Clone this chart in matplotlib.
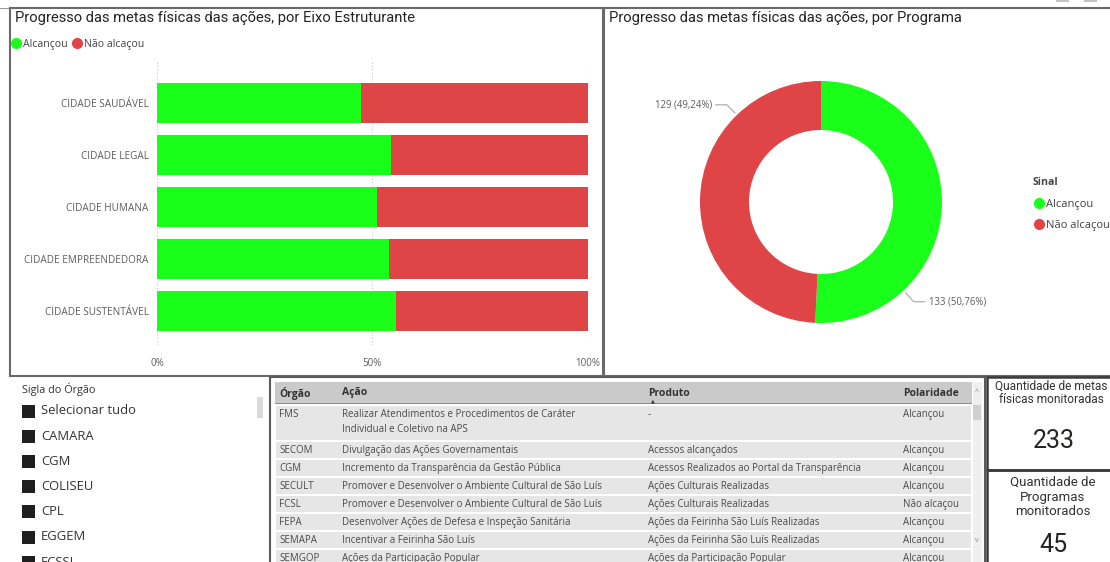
import numpy as np
import matplotlib
matplotlib.use("Agg")
import matplotlib.pyplot as plt
from matplotlib.patches import Rectangle
from matplotlib.lines import Line2D

# --- data -------------------------------------------------------------
eixos = ["CIDADE SAUDÁVEL", "CIDADE LEGAL", "CIDADE HUMANA",
         "CIDADE EMPREENDEDORA", "CIDADE SUSTENTÁVEL"]
pct_alcancou = [47.3, 54.2, 51.1, 53.8, 55.5]
pct_nao_alcancou = [52.7, 45.8, 48.9, 46.2, 44.5]

sinal_labels = ["Alcançou", "Não alcaçou"]
sinal_counts = [133, 129]

orgaos_slicer = ["Selecionar tudo", "CAMARA", "CGM", "COLISEU", "CPL", "EGGEM", "ECSSL"]

tab_orgao = ["FMS", "SECOM", "CGM", "SECULT", "FCSL", "FEPA", "SEMAPA", "SEMGOP"]
tab_acao = ["Realizar Atendimentos e Procedimentos de Caráter\nIndividual e Coletivo na APS",
            "Divulgação das Ações Governamentais",
            "Incremento da Transparência da Gestão Pública",
            "Promover e Desenvolver o Ambiente Cultural de São Luís",
            "Promover e Desenvolver o Ambiente Cultural de São Luís",
            "Desenvolver Ações de Defesa e Inspeção Sanitária",
            "Incentivar a Feirinha São Luís",
            "Ações da Participação Popular"]
tab_produto = ["-", "Acessos alcançados",
               "Acessos Realizados ao Portal da Transparência",
               "Ações Culturais Realizadas", "Ações Culturais Realizadas",
               "Ações da Feirinha São Luís Realizadas",
               "Ações da Feirinha São Luís Realizadas",
               "Ações da Participação Popular"]
tab_polaridade = ["Alcançou", "Alcançou", "Alcançou", "Alcançou",
                  "Não alcaçou", "Alcançou", "Alcançou", "Alcançou"]

qtd_metas = 233
qtd_programas = 45

# --- style ------------------------------------------------------------
GREEN = "#1AFF1A"
RED = "#DF4447"
TXT = "#605E5C"
DARK = "#252423"
BODY_FONT = ["Open Sans", "DejaVu Sans"]
TITLE_FONT = ["Roboto", "DejaVu Sans"]

W, H = 1110, 562
fig = plt.figure(figsize=(W / 100, H / 100), dpi=100)


def fx(x):
    return x / W


def fy(y):
    return 1 - y / H


def axes_px(x0, y0, x1, y1):
    return fig.add_axes([x0 / W, 1 - y1 / H, (x1 - x0) / W, (y1 - y0) / H])


def rect_px(x0, y0, x1, y1, **kw):
    fig.patches.append(Rectangle((x0 / W, 1 - y1 / H), (x1 - x0) / W, (y1 - y0) / H,
                                 transform=fig.transFigure, **kw))


def text_px(x, y, s, **kw):
    kw.setdefault("family", BODY_FONT)
    fig.text(x / W, 1 - y / H, s, **kw)


# --- panel frames -----------------------------------------------------
rect_px(0, 8, 1112, 9, facecolor="#9A9A9A", edgecolor="none")
rect_px(1056, -2, 1069, 2, facecolor="#C4C4C4", edgecolor="none")
rect_px(1084, -2, 1097, 2, facecolor="#C4C4C4", edgecolor="none")
rect_px(10, 8, 603, 376, facecolor="none", edgecolor="#6A6A6A", lw=1.5)
rect_px(604, 8, 1114, 376, facecolor="none", edgecolor="#6A6A6A", lw=1.5)

# --- stacked bar chart ------------------------------------------------
text_px(15, 18, "Progresso das metas físicas das ações, por Eixo Estruturante",
        fontsize=10.6, color=DARK, va="center", family=TITLE_FONT)

ax = axes_px(157, 62, 588, 345)
pos = np.arange(len(eixos))
ax.barh(pos, pct_alcancou, height=0.77, color=GREEN, zorder=3)
ax.barh(pos, pct_nao_alcancou, left=pct_alcancou, height=0.77, color=RED, zorder=3)
ax.set_ylim(len(eixos) - 1 + 0.65, -0.79)
ax.set_xlim(0, 100)
ax.set_yticks(pos)
ax.set_yticklabels(eixos, fontsize=7.2, color=TXT, family=BODY_FONT)
ax.set_xticks([0, 50, 100])
ax.set_xticklabels(["0%", "50%", "100%"], fontsize=7.0, color=TXT, family=BODY_FONT)
ax.tick_params(length=0)
ax.tick_params(axis="x", pad=9)
ax.tick_params(axis="y", pad=6)
ax.xaxis.grid(True, linestyle=":", color="#CFCFCF", lw=0.9, zorder=0)
for s in ax.spines.values():
    s.set_visible(False)

leg_handles = [Line2D([], [], marker="o", ls="none", color=c, markersize=7)
               for c in (GREEN, RED)]
leg1 = fig.legend(leg_handles, sinal_labels, loc="upper left",
                  bbox_to_anchor=(fx(11), fy(39)), ncol=2, frameon=False,
                  handletextpad=0.15, columnspacing=0.35, handlelength=1.0,
                  borderaxespad=0, borderpad=0,
                  prop={"family": BODY_FONT, "size": 7.6})
for t in leg1.get_texts():
    t.set_color("#444444")

# --- donut ------------------------------------------------------------
text_px(609, 18, "Progresso das metas físicas das ações, por Programa",
        fontsize=10.6, color=DARK, va="center", family=TITLE_FONT)

cx, cy, r_px = 821, 202, 121
lim = 130 / r_px
ax2 = axes_px(cx - 130, cy - 130, cx + 130, cy + 130)
ax2.pie(sinal_counts, colors=[GREEN, RED], startangle=90, counterclock=False,
        radius=1, wedgeprops=dict(width=1 - 72 / r_px, edgecolor="none"))
ax2.set_xlim(-lim, lim)
ax2.set_ylim(-lim, lim)
ax2.set_aspect("equal")
ax2.axis("off")

total = sum(sinal_counts)
label_angles = [-47, 134]
for cnt, ang in zip(sinal_counts, label_angles):
    lab = f"{cnt} ({cnt / total * 100:.2f}%)".replace(".", ",")
    a = np.deg2rad(ang)
    x0, y0 = 1.025 * np.cos(a), 1.025 * np.sin(a)
    sgn = 1 if np.cos(a) > 0 else -1
    x1, y1 = x0 + sgn * 8 / r_px, y0 + (-9 if sgn > 0 else 8) / r_px
    x2 = x1 + sgn * 11 / r_px
    ax2.plot([x0, x1, x2], [y0, y1, y1], color="#B0B0B0", lw=0.9, clip_on=False)
    ax2.text(x2 + sgn * 4 / r_px, y1, lab, ha="left" if sgn > 0 else "right",
             va="center", fontsize=6.9, color=TXT, family=BODY_FONT)

leg2 = fig.legend(leg_handles, sinal_labels, loc="upper left", title="Sinal",
                  bbox_to_anchor=(fx(1033), fy(177)), frameon=False,
                  handletextpad=0.15, handlelength=1.0, labelspacing=0.95,
                  borderaxespad=0, borderpad=0,
                  prop={"family": BODY_FONT, "size": 8.0},
                  title_fontproperties={"family": BODY_FONT, "size": 7.6, "weight": "bold"})
leg2._legend_box.align = "left"
leg2.get_title().set_color("#444444")
for t in leg2.get_texts():
    t.set_color("#444444")

# --- slicer -----------------------------------------------------------
text_px(22, 389, "Sigla do Órgão", fontsize=7.8, color="#333333", va="center")
rect_px(257, 397, 263, 418, facecolor="#DADADA", edgecolor="none")
for i, name in enumerate(orgaos_slicer):
    yy = 411 + i * 25.2
    rect_px(22, yy - 6.5, 35, yy + 6.5, facecolor="#1F1F1F", edgecolor="none")
    text_px(41, yy, name, fontsize=9.4, color="#333333", va="center")

# --- table ------------------------------------------------------------
rect_px(275, 382, 972, 404, facecolor="#CACACA", edgecolor="none")
rect_px(275, 403, 972, 405, facecolor="#8E8E8E", edgecolor="none")
col_x = [279, 342, 648, 903]
for x, h in zip(col_x, ["Órgão", "Ação", "Produto", "Polaridade"]):
    text_px(x, 393, h, fontsize=7.5, color="#333333", va="center", weight="bold")
text_px(651, 401, "▲", fontsize=3.5, color="#333333", va="center", family=["DejaVu Sans"])

row_h = [36 if "\n" in a else 18 for a in tab_acao]
top = 405
for org, acao, prod, pol, h in zip(tab_orgao, tab_acao, tab_produto, tab_polaridade, row_h):
    rect_px(275, top, 972, top + h, facecolor="#E6E6E6", edgecolor="white", lw=1.4)
    for x, s in zip(col_x, [org, acao, prod, pol]):
        text_px(x, top + 4, s, fontsize=7, color="#4A4A4A", va="top", linespacing=1.55)
    top += h

rect_px(973, 382, 982, 565, facecolor="#EFEFEF", edgecolor="none")
rect_px(973, 405, 981, 420, facecolor="#CFCFCF", edgecolor="none")
text_px(977, 392, "^", fontsize=5, color="#888888", ha="center", va="center")
text_px(977, 541, "v", fontsize=5, color="#888888", ha="center", va="center")
rect_px(270, 377, 985, 566, facecolor="none", edgecolor="#5A5A5A", lw=1.5)

# --- cards ------------------------------------------------------------
rect_px(987, 377, 1114, 470, facecolor="none", edgecolor="#3A3A3A", lw=1.8)
rect_px(987, 470, 1114, 566, facecolor="none", edgecolor="#3A3A3A", lw=1.8)
text_px(1051, 393, "Quantidade de metas\nfísicas monitoradas", fontsize=8.6, color="#333333",
        ha="center", va="center", linespacing=1.05, family=TITLE_FONT)
text_px(1054, 441, f"{qtd_metas}", fontsize=18, color=DARK, ha="center", va="center",
        family=TITLE_FONT)
text_px(1053, 497, "Quantidade de\nProgramas\nmonitorados", fontsize=9.5, color="#333333",
        ha="center", va="center", linespacing=1.15, family=TITLE_FONT)
text_px(1053, 545, f"{qtd_programas}", fontsize=18, color=DARK, ha="center", va="center",
        family=TITLE_FONT)

fig.savefig("out.png", dpi=100)
